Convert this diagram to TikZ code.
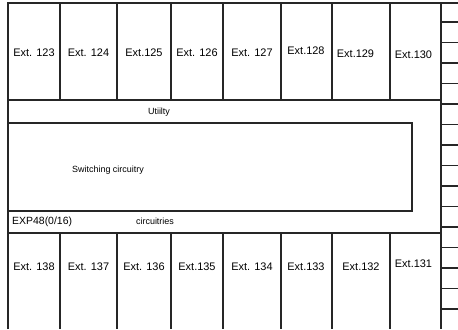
\documentclass[tikz,border=0pt]{standalone}
\usepackage{fontspec}
\setmainfont{Liberation Sans}
\begin{document}
\begin{tikzpicture}[x=1bp,y=-1bp,
  wall/.style={draw=black!85,line width=1.1bp},
  extlabel/.style={font=\fontsize{11}{13}\selectfont,inner sep=0pt,text=black},
  areatext/.style={font=\fontsize{9}{11}\selectfont,inner sep=0pt,text=black}]
\useasboundingbox (0,0) rectangle (458,329);
% outer frame
\draw[wall] (8,329) -- (8,3) -- (458,3);
\draw[wall] (441,3) -- (441,329);
% top row
\draw[wall] (8,100) -- (441,100);
\foreach \x in {60,117,171,223,281,332,390} {\draw[wall] (\x,3) -- (\x,100);}
% bottom row
\draw[wall] (8,233) -- (441,233);
\foreach \x in {60,117,171,223,281,332,390} {\draw[wall] (\x,233) -- (\x,329);}
% switching box
\draw[wall] (8,123) rectangle (412,211);
% right ticks
\foreach \k in {0,...,14} {\draw[wall] (441,22+20.5*\k) -- (458,22+20.5*\k);}
% labels top
\node[extlabel] (e123) at (34,53) {Ext. 123};
\node[extlabel] (e124) at (88.5,53) {Ext. 124};
\node[extlabel] (e125) at (144,53) {Ext.125};
\node[extlabel] (e126) at (197,53) {Ext. 126};
\node[extlabel] (e127) at (252,53) {Ext. 127};
\node[extlabel] (e128) at (306,51) {Ext.128};
\node[extlabel] (e129) at (355.5,54) {Ext.129};
\node[extlabel] (e130) at (413.5,55) {Ext.130};
% labels bottom
\node[extlabel] (e138) at (34,267) {Ext. 138};
\node[extlabel] (e137) at (88.5,267) {Ext. 137};
\node[extlabel] (e136) at (144,267) {Ext. 136};
\node[extlabel] (e135) at (197,267) {Ext.135};
\node[extlabel] (e134) at (252,267) {Ext. 134};
\node[extlabel] (e133) at (306,267) {Ext.133};
\node[extlabel] (e132) at (361,267) {Ext.132};
\node[extlabel] (e131) at (413.5,264) {Ext.131};
% area texts
\node[areatext] (util) at (159,112) {Utiilty};
\node[areatext] (sw) at (108,170) {Switching circuitry};
\node[areatext,font=\fontsize{10.5}{12}\selectfont,anchor=west] (exp) at (12,222) {EXP48(0/16)};
\node[areatext] (circ) at (155,221) {circuitries};
\end{tikzpicture}
\end{document}
